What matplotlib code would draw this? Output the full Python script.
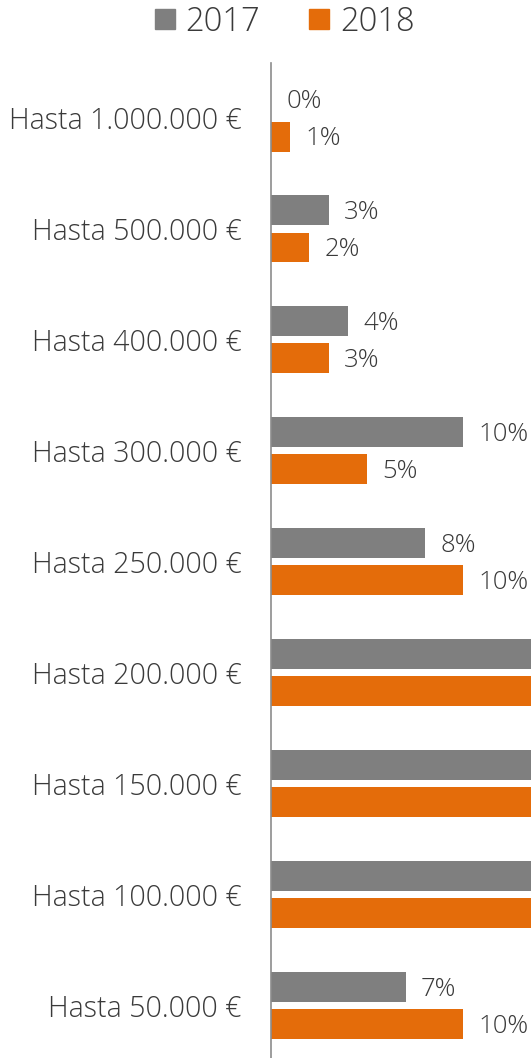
import matplotlib.pyplot as plt
from matplotlib.lines import Line2D
import numpy as np

plt.rcParams['font.family'] = ['Open Sans', 'DejaVu Sans']
plt.rcParams['font.weight'] = 'light'

# bottom to top, as drawn
categories = ["Hasta 50.000 €", "Hasta 100.000 €", "Hasta 150.000 €",
              "Hasta 200.000 €", "Hasta 250.000 €", "Hasta 300.000 €",
              "Hasta 400.000 €", "Hasta 500.000 €", "Hasta 1.000.000 €"]
# the 100k-200k bars run past the cropped edge; values there are guesses
vals_2017 = [7, 23, 25, 20, 8, 10, 4, 3, 0]
vals_2018 = [10, 23, 24, 22, 10, 5, 3, 2, 1]

c17 = "#7F7F7F"
c18 = "#E46C0A"
txt = "#3A3A3A"

fig = plt.figure(figsize=(5.31, 10.58), dpi=100)
ax = fig.add_axes([271 / 531, 0, 1 - 271 / 531, 1 - 63 / 1058])

y = np.arange(len(categories))
h = 0.27
off = 0.167
ax.barh(y + off, vals_2017, height=h, color=c17)
ax.barh(y - off, vals_2018, height=h, color=c18)

for yi, v in zip(y, vals_2017):
    ax.annotate(f"{v}%", (v, yi + off), xytext=(11, -1.5), textcoords="offset points",
                va="center", ha="left", fontsize=18.5, color=txt, annotation_clip=True)
for yi, v in zip(y, vals_2018):
    ax.annotate(f"{v}%", (v, yi - off), xytext=(11, -1.5), textcoords="offset points",
                va="center", ha="left", fontsize=18.5, color=txt, annotation_clip=True)

ax.set_xlim(0, 13.52)
ax.set_ylim(-0.473, 8.496)
ax.set_yticks(y)
ax.set_yticklabels(categories, fontsize=20.6, color=txt)
ax.tick_params(axis="y", length=0, pad=21)
ax.set_xticks([])
for s in ["top", "right", "bottom"]:
    ax.spines[s].set_visible(False)
ax.spines["left"].set_color("#8C8C8C")
ax.spines["left"].set_linewidth(1.2)

handles = [Line2D([], [], marker="s", linestyle="", markersize=15, color=c17),
           Line2D([], [], marker="s", linestyle="", markersize=15, color=c18)]
fig.legend(handles, ["2017", "2018"], loc="center", ncol=2,
           bbox_to_anchor=(0.535, 1 - 22 / 1058), frameon=False,
           fontsize=23.5, labelcolor=txt, handlelength=0.7, handletextpad=0.3,
           columnspacing=1.45)

fig.savefig("out.png", dpi=100)
